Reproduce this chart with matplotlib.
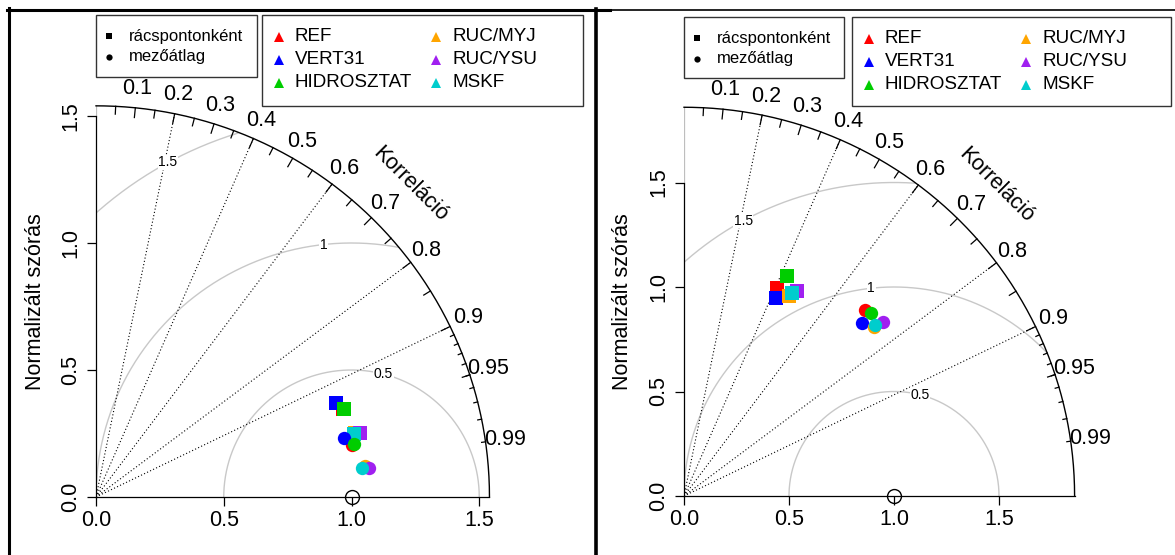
import numpy as np
import matplotlib
matplotlib.use("Agg")
import matplotlib.pyplot as plt
from matplotlib.patches import Rectangle

plt.rcParams['font.family'] = ['Liberation Sans', 'DejaVu Sans']

models = ['REF', 'VERT31', 'HIDROSZTAT', 'RUC/MYJ', 'RUC/YSU', 'MSKF']
colors = ['#FF0000', '#0000FF', '#00CD00', '#FFA500', '#A020F0', '#00CDCD']
point_types = ['rácspontonként', 'mezőátlag']

# left panel: normalized std and correlation
left_sd_grid = [1.026, 1.008, 1.032, 1.045, 1.065, 1.039]
left_cor_grid = [0.9417, 0.9303, 0.9415, 0.9707, 0.9720, 0.9713]
left_sd_mean = [1.021, 0.999, 1.031, 1.061, 1.076, 1.046]
left_cor_mean = [0.9796, 0.9722, 0.9790, 0.9934, 0.9944, 0.9941]

# right panel
right_sd_grid = [1.087, 1.045, 1.161, 1.081, 1.118, 1.101]
right_cor_grid = [0.4056, 0.4191, 0.4212, 0.4634, 0.4805, 0.4689]
right_sd_mean = [1.239, 1.187, 1.247, 1.213, 1.261, 1.224]
right_cor_mean = [0.6957, 0.7155, 0.7131, 0.7467, 0.7501, 0.7441]

sd_ticks = [0.0, 0.5, 1.0, 1.5]
cor_labels = [0.1, 0.2, 0.3, 0.4, 0.5, 0.6, 0.7, 0.8, 0.9, 0.95, 0.99]
cor_lines = [0.2, 0.4, 0.6, 0.8, 0.9]
gammas = [0.5, 1.0, 1.5]

W, H = 1175, 555
fig = plt.figure(figsize=(W / 100, H / 100), dpi=100)


def taylor(x0, y0, sx, sy, maxsd, sd_g, cor_g, sd_m, cor_m):
    lim = 2.1
    ax = fig.add_axes([x0 / W, (H - y0) / H, lim * sx / W, lim * sy / H])
    ax.set_xlim(0, lim)
    ax.set_ylim(0, lim)
    ax.patch.set_alpha(0)
    for s in ['top', 'right']:
        ax.spines[s].set_visible(False)
    ax.spines['bottom'].set_bounds(0, maxsd)
    ax.spines['left'].set_bounds(0, 1.5)
    ax.spines['bottom'].set_linewidth(0.9)
    ax.spines['left'].set_linewidth(0.9)
    ax.set_xticks(sd_ticks)
    ax.set_yticks(sd_ticks)
    ax.set_xticklabels(['%.1f' % t for t in sd_ticks])
    ax.set_yticklabels(['%.1f' % t for t in sd_ticks])
    ax.tick_params(direction='out', length=6.5, width=0.9, labelsize=15.5)
    ax.tick_params(axis='x', pad=3)
    ax.tick_params(axis='y', pad=4, labelrotation=90)
    for lbl in ax.get_yticklabels():
        lbl.set_va('center')
    ax.plot([0, 0], [1.5, maxsd], color='#BEBEBE', lw=0.9)

    # gamma arcs
    th = np.linspace(0, np.pi, 600)
    for k, g in enumerate(gammas):
        xc = 1 + g * np.cos(th)
        yc = g * np.sin(th)
        ok = (xc >= 0) & (xc ** 2 + yc ** 2 <= maxsd ** 2)
        ax.plot(np.where(ok, xc, np.nan), yc, color='#C8C8C8', lw=1)
        a = [44, 56, 69][k] * 0.03
        ax.text(1 + g * np.cos(a), g * np.sin(a), '%g' % g, fontsize=10,
                ha='center', va='center',
                bbox=dict(fc='white', ec='none', pad=0.5))

    # correlation rays
    for c in cor_lines:
        a = np.arccos(c)
        ax.plot([0, maxsd * np.cos(a)], [0, maxsd * np.sin(a)], color='black',
                lw=0.8, linestyle=(0, (1, 2)))

    # outer arc
    t = np.linspace(0, np.pi / 2, 300)
    ax.plot(maxsd * np.cos(t), maxsd * np.sin(t), color='black', lw=1, clip_on=False)
    for cs, f in [(np.arange(0.1, 0.91, 0.1), 0.975), (np.arange(0.05, 0.96, 0.1), 0.98),
                  (np.arange(0.91, 0.995, 0.01), 0.99)]:
        for c in cs:
            a = np.arccos(c)
            ax.plot([maxsd * np.cos(a), f * maxsd * np.cos(a)],
                    [maxsd * np.sin(a), f * maxsd * np.sin(a)], color='black', lw=0.9)
    for c in cor_labels:
        a = np.arccos(c)
        ax.text(1.05 * maxsd * np.cos(a), 1.05 * maxsd * np.sin(a), '%g' % c,
                fontsize=15.5, ha='center', va='center')
    ax.text(0.8 * maxsd, 0.8 * maxsd, 'Korreláció', fontsize=15.5, rotation=-45,
            ha='center', va='center')

    # reference point
    ax.plot(1, 0, 'o', mfc='none', mec='black', ms=10, mew=1, clip_on=False, zorder=5)

    for i in range(len(models)):
        a = np.arccos(cor_g[i])
        ax.plot(sd_g[i] * np.cos(a), sd_g[i] * np.sin(a), 's', color=colors[i],
                ms=9.4, mew=0, zorder=6)
    for i in range(len(models)):
        a = np.arccos(cor_m[i])
        ax.plot(sd_m[i] * np.cos(a), sd_m[i] * np.sin(a), 'o', color=colors[i],
                ms=9.6, mew=0, zorder=6)
    return ax


taylor(96, 497, 255.5, 254, 1.54, left_sd_grid, left_cor_grid, left_sd_mean, left_cor_mean)
taylor(684, 496, 210, 209, 1.86, right_sd_grid, right_cor_grid, right_sd_mean, right_cor_mean)

ov = fig.add_axes([0, 0, 1, 1])
ov.set_xlim(0, W)
ov.set_ylim(H, 0)
ov.axis('off')
ov.patch.set_alpha(0)


def legends(x1, y1, w1, h1, x2, y2, w2, h2, ylab_x):
    ov.add_patch(Rectangle((x1, y1), w1, h1, fc='white', ec='#333333', lw=1))
    for i, mk in enumerate(['s', 'o']):
        yy = y1 + 21 + i * 21
        ov.plot(x1 + 13, yy, marker=mk, color='black', ms=4.5, mew=0)
        ov.text(x1 + 33, yy, point_types[i], fontsize=12, va='center')
    ov.add_patch(Rectangle((x2, y2), w2, h2, fc='white', ec='#333333', lw=1))
    for i in range(len(models)):
        col, row = divmod(i, 3)
        yy = y2 + 21.5 + row * 23
        ov.plot(x2 + 17 + col * 157, yy, marker='^', color=colors[i], ms=6.5, mew=0)
        ov.text(x2 + 33 + col * 157, yy, models[i], fontsize=13.6, va='center')
    ov.text(ylab_x, 302, 'Normalizált szórás', rotation=90, fontsize=15.5,
            ha='center', va='center')


legends(96, 15, 161, 62, 262, 15, 321, 91, 36)
legends(684, 17, 160, 61, 852, 17, 319, 89, 622)

# panel frames
ov.plot([8.5, 8.5], [8, 555], color='black', lw=2.2)
ov.plot([7, 610], [9.5, 9.5], color='black', lw=2.2)
ov.plot([610, 1175], [9.8, 9.8], color='black', lw=1.2)
ov.plot([596, 596], [9, 555], color='black', lw=2.6)

fig.savefig('out.png', dpi=100)
